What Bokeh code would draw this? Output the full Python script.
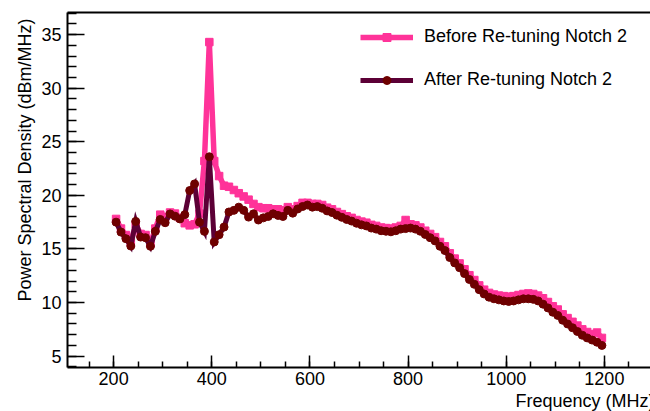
import numpy as np
from bokeh.plotting import figure
from bokeh.models import (SingleIntervalTicker, FixedTicker, Range1d, Title, Legend,
                          LegendItem, LinearAxis)
from bokeh.embed import file_html
from bokeh.resources import INLINE

# ---- data ----
freq_mhz = list(range(205, 1200, 10))

before_psd = [
    17.8, 16.9, 16.3, 15.6, 17.3, 16.4, 16.3, 15.5, 16.9, 18.2,
    18.0, 18.4, 18.3, 17.9, 17.4, 17.2, 17.3, 18.3, 23.2, 34.3,
    23.2, 21.8, 20.9, 20.8, 20.5, 20.2, 19.9, 19.6, 19.2, 18.9,
    18.8, 18.8, 18.7, 18.7, 18.6, 18.9, 18.7, 19.0, 19.3, 19.3,
    19.2, 19.2, 19.1, 18.85, 18.7, 18.45, 18.25, 18.05, 17.9, 17.7,
    17.55, 17.45, 17.25, 17.15, 17.0, 16.95, 16.9, 17.0, 17.15, 17.7,
    17.3, 17.2, 17.0, 16.7, 16.4, 16.1, 15.65, 15.25, 14.6, 14.1,
    13.65, 13.1, 12.55, 12.1, 11.6, 11.2, 10.9, 10.75, 10.65, 10.6,
    10.55, 10.6, 10.7, 10.8, 10.85, 10.8, 10.65, 10.4, 10.05, 9.65,
    9.35, 8.9, 8.55, 8.2, 7.85, 7.5, 7.25, 7.05, 7.2, 6.7,
]

after_psd = [
    17.5, 16.57, 15.96, 15.27, 17.57, 16.11, 16.05, 15.25, 16.64, 17.75,
    17.45, 18.27, 18.06, 17.8, 18.2, 20.45, 21.07, 17.5, 16.64, 23.6,
    15.65, 16.33, 17.04, 18.45, 18.6, 18.9, 18.6, 17.97, 18.28, 17.7,
    17.9, 18.03, 18.28, 18.13, 18.03, 18.6, 18.34, 18.73, 18.96, 19.1,
    18.9, 18.95, 18.8, 18.55, 18.4, 18.15, 17.95, 17.75, 17.6, 17.4,
    17.25, 17.15, 16.95, 16.85, 16.7, 16.65, 16.6, 16.7, 16.85, 16.9,
    16.95, 16.85, 16.65, 16.35, 16.05, 15.75, 15.25, 14.85, 14.2, 13.7,
    13.25, 12.7, 12.15, 11.7, 11.2, 10.8, 10.5, 10.35, 10.25, 10.15,
    10.1, 10.15, 10.25, 10.35, 10.35, 10.3, 10.15, 9.85, 9.5, 9.1,
    8.8, 8.35, 8.0, 7.65, 7.3, 6.95, 6.7, 6.5, 6.3, 6.0,
]

series_labels = ["Before Re-tuning Notch 2", "After Re-tuning Notch 2"]
x_title = "Frequency (MHz)"
y_title = "Power Spectral Density (dBm/MHz)"

# ---- styles ----
FONT = "Liberation Sans"
PINK = "#ff3399"
DARK_LINE = "#5c0036"
DARK_MARK = "#6e0000"

# ROOT-like automatic range: 10% margins around the first graph
xmin, xmax = min(freq_mhz), max(freq_mhz)
dx = xmax - xmin
ymin, ymax = min(before_psd), max(before_psd)
dy = ymax - ymin
xr = Range1d(xmin - 0.1 * dx, xmax + 0.1 * dx)
yr = Range1d(ymin - 0.1 * dy, ymax + 0.1 * dy)

p = figure(width=650, height=411, output_backend="svg", toolbar_location=None,
           x_range=xr, y_range=yr,
           min_border_left=67, min_border_right=0, min_border_top=12, min_border_bottom=44)
p.grid.visible = False
p.outline_line_color = None
p.background_fill_color = "white"
p.border_fill_color = "white"

l1 = p.line(freq_mhz, before_psd, line_color=PINK, line_width=5.5, line_join="miter")
s1 = p.scatter(freq_mhz, before_psd, marker="square", size=7.5,
               fill_color=PINK, line_color=PINK)
l2 = p.line(freq_mhz, after_psd, line_color=DARK_LINE, line_width=5, line_join="miter")
s2 = p.scatter(freq_mhz, after_psd, marker="circle", size=8,
               fill_color=DARK_MARK, line_color=DARK_MARK)

# axes
for ax in (p.xaxis[0], p.yaxis[0]):
    ax.axis_line_width = 2
    ax.axis_line_color = "black"
    ax.major_tick_line_color = "black"
    ax.minor_tick_line_color = "black"
    ax.major_tick_line_width = 1.5
    ax.minor_tick_line_width = 1.5
    ax.major_tick_out = 0
    ax.minor_tick_out = 0
    ax.major_label_text_font = FONT
    ax.major_label_text_font_size = "18px"
    ax.major_label_text_color = "black"
    ax.axis_label = None

p.xaxis.ticker = SingleIntervalTicker(interval=200, num_minor_ticks=4)
p.yaxis.ticker = SingleIntervalTicker(interval=5, num_minor_ticks=5)
p.xaxis.major_tick_in = 12
p.xaxis.minor_tick_in = 6
p.yaxis.major_tick_in = 17
p.yaxis.minor_tick_in = 9
p.xaxis.major_label_standoff = 4
p.yaxis.major_label_standoff = 6

# top frame line
top = LinearAxis(ticker=FixedTicker(ticks=[]), axis_line_width=2, axis_line_color="black",
                 major_tick_in=0, major_tick_out=0, minor_tick_in=0, minor_tick_out=0,
                 major_label_text_font_size="0px", axis_label=None)
p.add_layout(top, "above")

# axis titles (right-aligned at the axis ends, ROOT style)
p.add_layout(Title(text=x_title, align="right", standoff=2, offset=-4, text_font=FONT,
                   text_font_size="18px", text_font_style="normal",
                   text_color="black"), "below")
p.add_layout(Title(text=y_title, align="right", standoff=8, offset=6, text_font=FONT,
                   text_font_size="18px", text_font_style="normal",
                   text_color="black"), "left")

legend = Legend(items=[LegendItem(label=series_labels[0], renderers=[l1, s1]),
                       LegendItem(label=series_labels[1], renderers=[l2, s2])],
                location=(293, 277), padding=0, margin=0, spacing=22,
                glyph_width=53, glyph_height=20, label_height=20,
                label_standoff=11, label_text_font=FONT, label_text_font_size="18px",
                label_text_color="black", border_line_color=None,
                background_fill_alpha=0)
p.add_layout(legend)

open("out.html", "w").write(file_html(p, INLINE))
